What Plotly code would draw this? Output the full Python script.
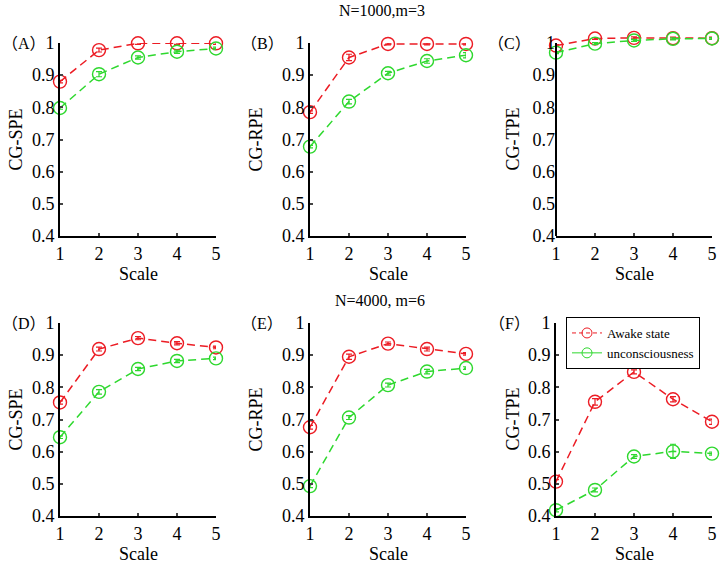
import plotly.graph_objects as go

scales = [1, 2, 3, 4, 5]
panel_labels = ["（A）", "（B）", "（C）", "（D）", "（E）", "（F）"]
y_titles = ["CG-SPE", "CG-RPE", "CG-TPE", "CG-SPE", "CG-RPE", "CG-TPE"]
row_titles = ["N=1000,m=3", "N=4000, m=6"]
series_names = ["Awake state", "unconsciousness"]

awake_A = [0.880, 0.978, 0.999, 0.999, 0.999]
uncon_A = [0.798, 0.903, 0.955, 0.973, 0.983]
awake_B = [0.785, 0.955, 0.997, 0.997, 0.997]
uncon_B = [0.678, 0.818, 0.906, 0.944, 0.962]
awake_C = [0.992, 1.014, 1.016, 1.015, 1.015]
uncon_C = [0.970, 0.998, 1.008, 1.013, 1.014]
awake_D = [0.753, 0.919, 0.953, 0.937, 0.924]
uncon_D = [0.645, 0.786, 0.857, 0.882, 0.890]
awake_E = [0.676, 0.895, 0.936, 0.919, 0.904]
uncon_E = [0.493, 0.706, 0.807, 0.849, 0.860]
awake_F = [0.507, 0.755, 0.848, 0.763, 0.693]
uncon_F = [0.418, 0.481, 0.585, 0.601, 0.594]

err_awake = [
    [0.004, 0.006, 0.003, 0.003, 0.003],
    [0.004, 0.010, 0.003, 0.003, 0.003],
    [0.003, 0.003, 0.003, 0.003, 0.003],
    [0.005, 0.006, 0.005, 0.005, 0.004],
    [0.006, 0.008, 0.005, 0.006, 0.004],
    [0.006, 0.010, 0.006, 0.008, 0.008],
]
err_uncon = [
    [0.004, 0.008, 0.005, 0.005, 0.004],
    [0.004, 0.007, 0.006, 0.007, 0.008],
    [0.003, 0.003, 0.003, 0.003, 0.003],
    [0.004, 0.007, 0.005, 0.005, 0.004],
    [0.005, 0.006, 0.006, 0.007, 0.004],
    [0.005, 0.006, 0.006, 0.022, 0.005],
]

awake_all = [awake_A, awake_B, awake_C, awake_D, awake_E, awake_F]
uncon_all = [uncon_A, uncon_B, uncon_C, uncon_D, uncon_E, uncon_F]

RED = "#ec1c24"
GREEN = "#2ed82e"
FONT = "'Liberation Serif', 'Times New Roman', 'Noto Sans CJK SC', serif"
W, H = 720, 564

# pixel geometry of plot areas
x_px = [(60, 216), (310, 466), (556, 712)]
y_px = [(43, 236), (323, 516)]
y_lo, y_hi = 0.4, 1.0
px_per_unit = (236 - 43) / (y_hi - y_lo)

fig = go.Figure()
layout = {}
annotations = []
shapes = []


def label(text, px, py, size, angle=0, xanchor="center"):
    return dict(text=text, x=px / W, y=1 - py / H, xref="paper", yref="paper",
                xanchor=xanchor, yanchor="middle", showarrow=False, textangle=angle,
                font=dict(size=size, family=FONT, color="black"))


for i in range(6):
    r, c = divmod(i, 3)
    ax = "" if i == 0 else str(i + 1)
    x0, x1 = x_px[c]
    top, bot = y_px[r]
    top_range = y_hi
    show_line = True
    if max(awake_all[i] + uncon_all[i]) > y_hi:
        top_range = 1.03
        top = top - (top_range - y_hi) * px_per_unit
        show_line = False
    layout["xaxis" + ax] = dict(
        domain=[x0 / W, x1 / W], anchor="y" + ax, range=[1, 5], automargin=False,
        tickvals=scales, ticks="inside", ticklen=3, tickwidth=1.5,
        showline=True, linecolor="black", linewidth=2, showgrid=False,
        zeroline=False, tickfont=dict(size=18, color="black", family=FONT),
    )
    layout["yaxis" + ax] = dict(
        domain=[1 - bot / H, 1 - top / H], anchor="x" + ax, automargin=False,
        range=[y_lo, top_range], tickvals=[0.4, 0.5, 0.6, 0.7, 0.8, 0.9, 1.0],
        ticktext=["0.4", "0.5", "0.6", "0.7", "0.8", "0.9", "1"],
        ticks="inside" if show_line else "", ticklen=3, tickwidth=1.5,
        showline=show_line, linecolor="black", linewidth=2, showgrid=False,
        zeroline=False, tickfont=dict(size=18, color="black", family=FONT),
    )
    if not show_line:
        shapes.append(dict(type="line", xref="x" + ax + " domain", yref="y" + ax,
                           x0=0, x1=0, y0=y_lo, y1=y_hi,
                           line=dict(color="black", width=2)))
    for vals, errs, col in ((awake_all[i], err_awake[i], RED),
                            (uncon_all[i], err_uncon[i], GREEN)):
        fig.add_trace(go.Scatter(
            x=scales, y=vals, xaxis="x" + ax, yaxis="y" + ax,
            mode="lines+markers", showlegend=False, cliponaxis=False,
            line=dict(color=col, width=1.5, dash="8px,5px"),
            marker=dict(symbol="circle-open", size=13, color=col,
                        line=dict(width=1.4, color=col)),
            error_y=dict(type="data", array=errs, color=col, thickness=1.2, width=3),
        ))
    cx = (x0 + x1) / 2
    cy = (y_px[r][0] + y_px[r][1]) / 2
    annotations.append(label("Scale", cx, y_px[r][1] + 38, 18))
    annotations.append(label(y_titles[i], [15, 255, 512][c], cy, 18, -90))
    if c == 0:
        annotations.append(label(panel_labels[i], 0, y_px[r][0], 16, xanchor="left"))
    else:
        annotations.append(label(panel_labels[i], [14, 262, 509][c], y_px[r][0], 16))

annotations.append(label(row_titles[0], 382, 11, 16))
annotations.append(label(row_titles[1], 380, 300, 16))

# legend entries
fig.add_trace(go.Scatter(x=[None], y=[None], xaxis="x6", yaxis="y6", name=series_names[0],
                         mode="lines+markers",
                         line=dict(color=RED, width=1, dash="4px,3px"),
                         marker=dict(symbol="circle-open", size=10, color=RED)))
fig.add_trace(go.Scatter(x=[None], y=[None], xaxis="x6", yaxis="y6", name=series_names[1],
                         mode="lines+markers",
                         line=dict(color=GREEN, width=1),
                         marker=dict(symbol="circle-open", size=10, color=GREEN)))

fig.update_layout(
    width=W, height=H, margin=dict(l=0, r=0, t=0, b=0),
    paper_bgcolor="white", plot_bgcolor="white",
    font=dict(family=FONT, color="black"),
    annotations=annotations, shapes=shapes,
    legend=dict(x=566 / W, y=1 - 317 / H, xanchor="left", yanchor="top",
                bordercolor="black", borderwidth=1, bgcolor="white",
                font=dict(size=13, family=FONT, color="black"),
                tracegroupgap=0, itemwidth=30),
    **layout,
)
fig.write_html("out.html", config={"displayModeBar": False},
               post_script="document.body.style.margin='0';document.body.style.padding='0';")
